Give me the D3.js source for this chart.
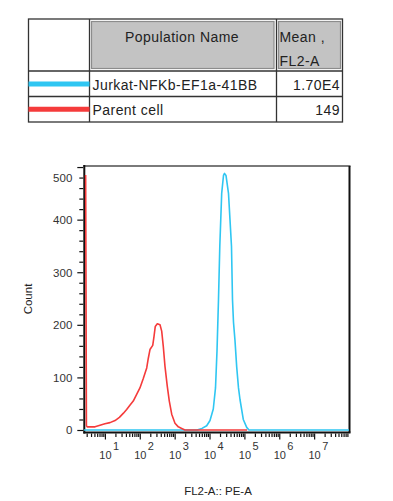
<!DOCTYPE html>
<html><head><meta charset="utf-8">
<script src="https://cdn.jsdelivr.net/npm/d3@7"></script>
<style>
html,body{margin:0;padding:0;background:#fff;}
svg text{font-family:"Liberation Sans",Arial,Helvetica,sans-serif;}
</style></head>
<body><svg id="c" width="393" height="501"></svg>
<script>
// ---- data ----
const populations = ["Jurkat-NFKb-EF1a-41BB", "Parent cell"];
const meanLabels = ["1.70E4", "149"];
const popColors = ["#2fc6f2", "#f53b3b"];
// Parent cell (red) histogram: FL2-A value, count
const redX = [2.8, 2.87, 2.95, 3.1, 5.2, 7.2, 10, 14, 19.5, 26, 34, 42, 52, 65, 82, 101, 126, 158, 175, 196, 235, 256, 278, 318, 380, 425, 472, 528, 615, 702, 823, 1022, 1271, 1591, 1980, 120000];
const redY = [485, 267, 8, 6, 6, 9, 12, 14, 18, 24, 32, 39, 47, 55, 68, 80, 98, 118, 136, 153, 161, 178, 197, 202, 200, 188, 159, 121, 83, 55, 30, 13, 6, 3, 0, 0];
// Jurkat (cyan) histogram
const cyanX = [2.51, 4372, 6081, 8296, 10313, 12823, 14835, 16376, 18082, 19704, 22333, 25153, 26869, 29672, 34995, 38637, 42658, 45570, 48678, 53753, 60137, 67712, 74758, 92985, 116372, 135499, 1e8];
const cyanY = [0, 0, 3, 8, 18, 40, 80, 150, 248, 349, 450, 484, 488, 484, 450, 400, 349, 248, 205, 170, 120, 80, 58, 20, 5, 0, 0];
const yMajor = [0, 100, 200, 300, 400, 500];
const xExponents = [1, 2, 3, 4, 5, 6, 7];
const xTitle = "FL2-A:: PE-A";
const yTitle = "Count";
const headers = ["Population Name", "Mean ,", "FL2-A"];

// ---- layout ----
const svg = d3.select("#c");
const L = 84.3, R = 349.5, T = 166, B = 432.5;
const x = d3.scaleLog().domain([Math.pow(10, 0.4), 1e8]).range([84, 349]);
const y = d3.scaleLinear().domain([0, 502]).range([430, 166]);

// ---- table ----
const tb = svg.append("g");
const tx0 = 28.5, tx1 = 89.5, tx2 = 276.5, tx3 = 342.5;
const ty0 = 19, ty1 = 71, ty2 = 96.5, ty3 = 122;
tb.append("rect").attr("x", 91.5).attr("y", 21.5).attr("width", 182.5).attr("height", 47)
  .attr("fill", "#c3c3c3").attr("stroke", "#8c8c8c").attr("stroke-width", 1.2);
tb.append("rect").attr("x", 278.5).attr("y", 21.5).attr("width", 62).attr("height", 47)
  .attr("fill", "#c3c3c3").attr("stroke", "#8c8c8c").attr("stroke-width", 1.2);
tb.append("rect").attr("x", tx0).attr("y", ty0).attr("width", tx3 - tx0).attr("height", ty3 - ty0)
  .attr("fill", "none").attr("stroke", "#333").attr("stroke-width", 1.3);
[[tx1, ty0, tx1, ty3], [tx2, ty0, tx2, ty3], [tx0, ty1, tx3, ty1], [tx0, ty2, tx3, ty2]].forEach(l => {
  tb.append("line").attr("x1", l[0]).attr("y1", l[1]).attr("x2", l[2]).attr("y2", l[3])
    .attr("stroke", "#333").attr("stroke-width", 1.3);
});
const LS = 0.45;
tb.append("text").attr("x", 182).attr("y", 42).attr("text-anchor", "middle").attr("letter-spacing", LS)
  .attr("font-size", 14).attr("fill", "#222").text(headers[0]);
tb.append("text").attr("x", 279.5).attr("y", 42).attr("font-size", 14).attr("letter-spacing", LS).attr("fill", "#222").text(headers[1]);
tb.append("text").attr("x", 279.5).attr("y", 66).attr("font-size", 14).attr("letter-spacing", LS).attr("fill", "#222").text(headers[2]);
const rowY = [84, 109.3];
populations.forEach((p, i) => {
  tb.append("line").attr("x1", tx0).attr("x2", tx1).attr("y1", rowY[i]).attr("y2", rowY[i])
    .attr("stroke", popColors[i]).attr("stroke-width", 5);
  tb.append("text").attr("x", 92.5).attr("y", rowY[i] + 5.5).attr("font-size", 14).attr("letter-spacing", LS)
    .attr("fill", "#222").text(p);
  tb.append("text").attr("x", 340).attr("y", rowY[i] + 5.5).attr("font-size", 14).attr("letter-spacing", LS)
    .attr("text-anchor", "end").attr("fill", "#222").text(meanLabels[i]);
});

// ---- frame ----
const fr = svg.append("g");
fr.append("line").attr("x1", L - 1).attr("x2", R + 1).attr("y1", T).attr("y2", T).attr("stroke", "#7a7a7a").attr("stroke-width", 2);
fr.append("line").attr("x1", R).attr("x2", R).attr("y1", T).attr("y2", B).attr("stroke", "#111").attr("stroke-width", 2);
fr.append("line").attr("x1", L).attr("x2", L).attr("y1", T - 1).attr("y2", B + 1).attr("stroke", "#111").attr("stroke-width", 2);
fr.append("line").attr("x1", L - 1).attr("x2", R + 1).attr("y1", B).attr("y2", B).attr("stroke", "#111").attr("stroke-width", 2);

// ---- y axis ----
const yMinor = d3.range(0, 501, 20).filter(v => yMajor.indexOf(v) < 0);
const yg = svg.append("g").attr("transform", `translate(${L - 1},0)`);
yg.append("g").call(d3.axisLeft(y).tickValues(yMinor).tickSize(4).tickFormat(""))
  .call(g => g.select(".domain").remove());
const yMaj = yg.append("g").call(d3.axisLeft(y).tickValues(yMajor).tickSize(6).tickPadding(5))
  .call(g => g.select(".domain").remove());
yg.selectAll("line").attr("stroke", "#111").attr("stroke-width", 1.2);
yMaj.selectAll("text").attr("font-size", 11.5).attr("fill", "#333").attr("font-family", "Liberation Sans, Arial, sans-serif")
  .attr("dy", d => d === 500 ? "1.25em" : "0.34em");

// ---- x axis ----
const xAll = [];
for (let e = 0; e <= 7; e++) for (let m = 1; m <= 9; m++) {
  const v = m * Math.pow(10, e);
  if (v >= x.domain()[0] && v <= x.domain()[1] && m !== 1) xAll.push(v);
}
const xMajorVals = xExponents.map(e => Math.pow(10, e));
const xg = svg.append("g").attr("transform", `translate(0,${B + 1})`);
xg.append("g").call(d3.axisBottom(x).tickValues(xAll).tickSize(3.5).tickFormat(""))
  .call(g => g.select(".domain").remove());
xg.append("g").call(d3.axisBottom(x).tickValues(xMajorVals).tickSize(6).tickFormat(""))
  .call(g => g.select(".domain").remove());
xg.selectAll("line").attr("stroke", "#111").attr("stroke-width", 1.2);
const lab = svg.append("g");
xExponents.forEach(e => {
  const px = x(Math.pow(10, e));
  lab.append("text").attr("x", px + 0.5).attr("y", 459).attr("text-anchor", "middle")
    .attr("font-size", 11).attr("fill", "#333").text("10");
  lab.append("text").attr("x", px + 8).attr("y", 449.5).attr("font-size", 11)
    .attr("fill", "#333").text(String(e));
});

// ---- titles ----
svg.append("text").attr("x", 218).attr("y", 495).attr("text-anchor", "middle")
  .attr("font-size", 11.5).attr("fill", "#222").text(xTitle);
svg.append("text").attr("transform", "translate(32,299) rotate(-90)").attr("text-anchor", "middle")
  .attr("font-size", 11.5).attr("fill", "#222").text(yTitle);

// ---- curves ----
svg.append("clipPath").attr("id", "clip").append("rect")
  .attr("x", 84).attr("y", 166).attr("width", 265).attr("height", 267);
const line = d3.line().x(d => x(d[0])).y(d => y(d[1]));
const cg = svg.append("g").attr("clip-path", "url(#clip)");
cg.append("path").datum(cyanX.map((v, i) => [v, cyanY[i]])).attr("d", line)
  .attr("fill", "none").attr("stroke", popColors[0]).attr("stroke-width", 1.6).attr("stroke-linejoin", "round");
cg.append("path").datum(redX.map((v, i) => [v, redY[i]])).attr("d", line)
  .attr("fill", "none").attr("stroke", popColors[1]).attr("stroke-width", 1.6).attr("stroke-linejoin", "round");
</script></body></html>
